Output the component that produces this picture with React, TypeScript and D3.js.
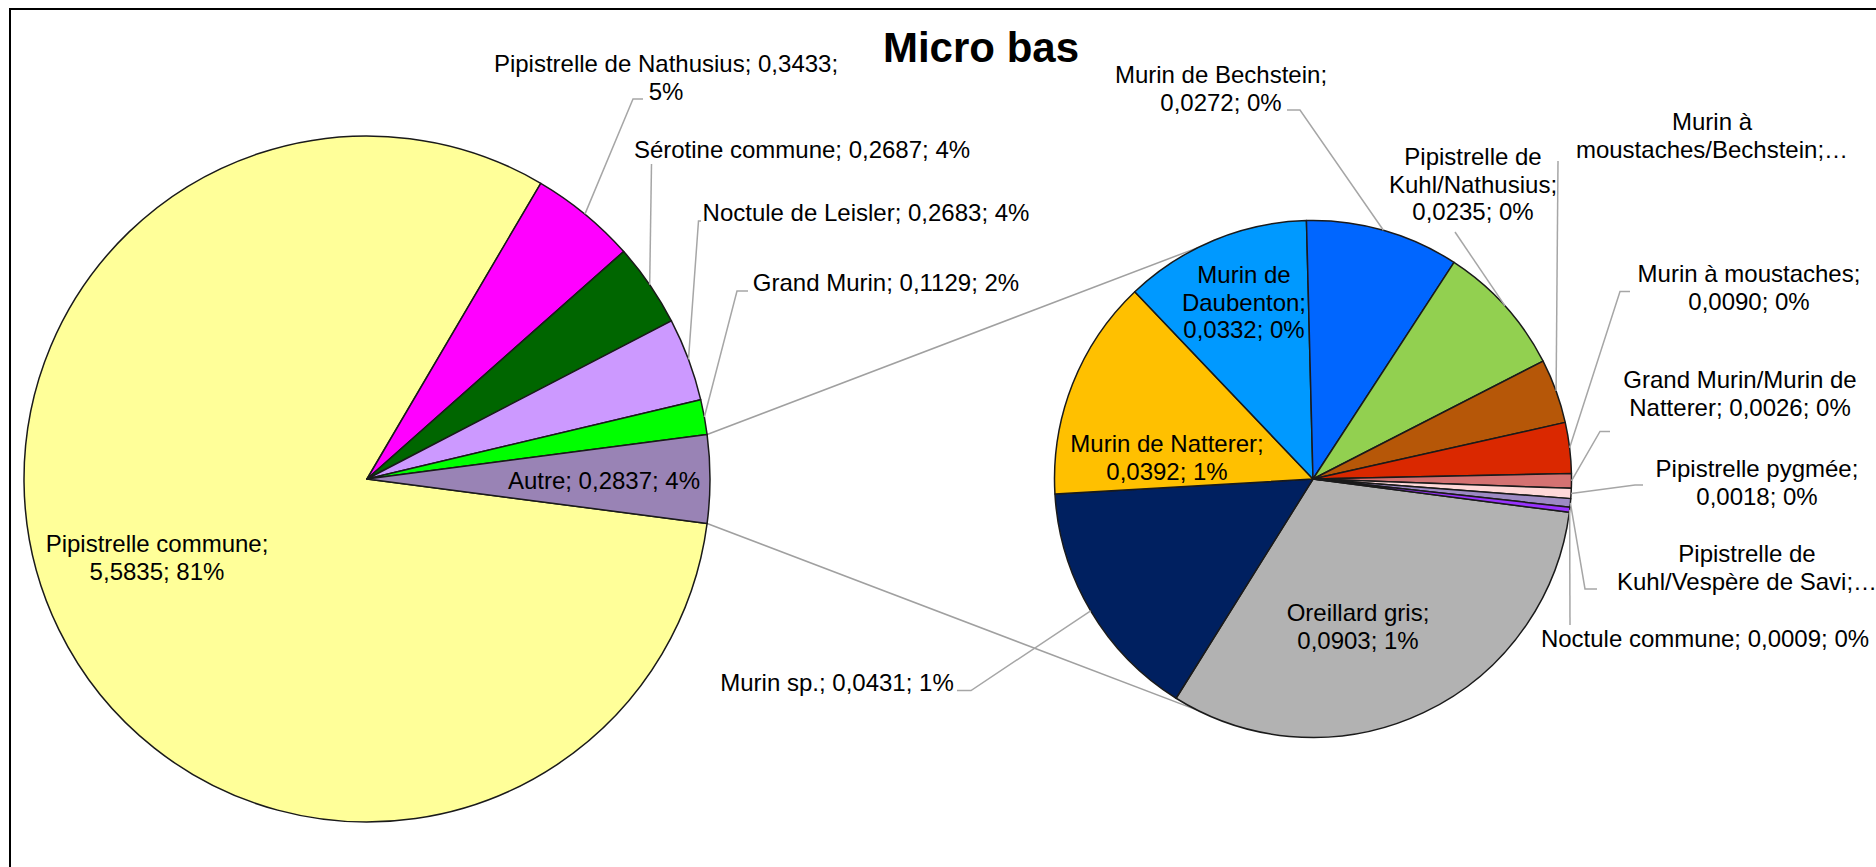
import React from 'react'
import * as d3 from 'd3'

const width = 1876
const height = 867

// main pie
const mainNames = ['Pipistrelle commune', 'Pipistrelle de Nathusius', 'Sérotine commune', 'Noctule de Leisler', 'Grand Murin']
const mainValues = [5.5835, 0.3433, 0.2687, 0.2683, 0.1129]
const mainColors = ['#FFFF99', '#FF00FF', '#006600', '#CC99FF', '#00FF00']
const otherName = 'Autre'
const otherColor = '#9983B5'

// secondary pie (details of "Autre")
const subNames = [
  'Oreillard gris', 'Murin sp.', 'Murin de Natterer', 'Murin de Daubenton', 'Murin de Bechstein',
  'Pipistrelle de Kuhl/Nathusius', 'Murin à moustaches/Bechstein', 'Murin à moustaches',
  'Grand Murin/Murin de Natterer', 'Pipistrelle pygmée', 'Pipistrelle de Kuhl/Vespère de Savi', 'Noctule commune',
]
const subValues = [0.0903, 0.0431, 0.0392, 0.0332, 0.0272, 0.0235, 0.0114, 0.0090, 0.0026, 0.0018, 0.0015, 0.0009]
const subColors = [
  '#B2B2B2', '#002060', '#FFC000', '#0099FF', '#0066FF', '#92D050',
  '#B65708', '#DA2800', '#D47272', '#FFD9D9', '#9D8AC4', '#9933FF',
]

const title = 'Micro bas'

// label layout: x centre, first baseline, words per line, leader elbow points
type Lay = { x: number; y: number; lines: number[]; leader?: [number, number][] }
const layout: Record<string, Lay> = {
  'Pipistrelle commune': { x: 157, y: 552, lines: [2, 2] },
  'Pipistrelle de Nathusius': { x: 666, y: 72, lines: [4, 1], leader: [[633, 99], [643, 99]] },
  'Sérotine commune': { x: 802, y: 158, lines: [4], leader: [[651.5, 164]] },
  'Noctule de Leisler': { x: 866, y: 221, lines: [5], leader: [[698.5, 221], [701, 221]] },
  'Grand Murin': { x: 886, y: 291, lines: [4], leader: [[737, 291], [748, 291]] },
  'Autre': { x: 604, y: 489, lines: [3] },
  'Oreillard gris': { x: 1358, y: 621, lines: [2, 2] },
  'Murin sp.': { x: 837, y: 691, lines: [4], leader: [[971, 690.5], [957, 690.5]] },
  'Murin de Natterer': { x: 1167, y: 452, lines: [3, 2] },
  'Murin de Daubenton': { x: 1244, y: 283, lines: [2, 1, 2] },
  'Murin de Bechstein': { x: 1221, y: 83, lines: [3, 2], leader: [[1300, 110], [1287, 110]] },
  'Pipistrelle de Kuhl/Nathusius': { x: 1473, y: 165, lines: [2, 1, 2], leader: [[1455, 232]] },
  'Murin à moustaches/Bechstein': { x: 1712, y: 130, lines: [2, 1], leader: [[1558, 161]] },
  'Murin à moustaches': { x: 1749, y: 282, lines: [3, 2], leader: [[1620, 291.5], [1630, 291.5]] },
  'Grand Murin/Murin de Natterer': { x: 1740, y: 388, lines: [3, 3], leader: [[1600, 431.5], [1610, 431.5]] },
  'Pipistrelle pygmée': { x: 1757, y: 477, lines: [2, 2], leader: [[1635, 485], [1643, 485]] },
  'Pipistrelle de Kuhl/Vespère de Savi': { x: 1747, y: 562, lines: [2, 3], leader: [[1585, 589], [1597, 589]] },
  'Noctule commune': { x: 1705, y: 647, lines: [4], leader: [[1570, 625]] },
}

const font = '"Liberation Sans", Arial, sans-serif'
const lineH = 27.6
const deg = Math.PI / 180

const fmt = (v: number) => d3.format('.4f')(v).replace('.', ',')

function wrap(text: string, counts: number[]) {
  const words = text.split(' ')
  const out: string[] = []
  let i = 0
  counts.forEach(c => {
    out.push(words.slice(i, i + c).join(' '))
    i += c
  })
  if (i < words.length) out[out.length - 1] += '…'
  return out
}

export default function App() {
  const otherValue = d3.sum(subValues)
  const total = d3.sum(mainValues) + otherValue
  const mainAll = [...mainValues, otherValue]
  const mainLabels = [...mainNames, otherName]
  const mainFill = [...mainColors, otherColor]

  const main = { cx: 367, cy: 479, r: 343 }
  const sub = { cx: 1313, cy: 479, r: 258.5 }

  // "Autre" centred on the horizontal on the right side
  const mainStart = Math.PI / 2 + (otherValue / total) * Math.PI
  const mainArcs = d3.pie<number>().sort(null).value(d => d)
    .startAngle(mainStart).endAngle(mainStart + 2 * Math.PI)(mainAll)

  const subStart = 97.4 * deg
  const subArcs = d3.pie<number>().sort(null).value(d => d)
    .startAngle(subStart).endAngle(subStart + 2 * Math.PI)(subValues)

  const mainArc = d3.arc<d3.PieArcDatum<number>>().innerRadius(0).outerRadius(main.r)
  const subArc = d3.arc<d3.PieArcDatum<number>>().innerRadius(0).outerRadius(sub.r)

  const polar = (c: { cx: number; cy: number; r: number }, a: number): [number, number] =>
    [c.cx + c.r * Math.sin(a), c.cy - c.r * Math.cos(a)]

  const line = d3.line()

  const other = mainArcs[mainArcs.length - 1]
  const connAngle = 26.6 * deg
  const connectors: [number, number][][] = [
    [polar(main, other.startAngle), polar(sub, 2 * Math.PI - connAngle)],
    [polar(main, other.endAngle), polar(sub, Math.PI + connAngle)],
  ]

  const labelText = (name: string, v: number) =>
    `${name}; ${fmt(v)}; ${Math.round((v / total) * 100)}%`

  const renderLabel = (name: string, v: number, edge: [number, number], key: string) => {
    const lay = layout[name]
    if (!lay) return null
    const lines = wrap(labelText(name, v), lay.lines)
    return (
      <g key={key}>
        {lay.leader && (
          <path d={line([edge, ...lay.leader]) || ''} fill="none" stroke="#A6A6A6" strokeWidth={1.5} />
        )}
        <text x={lay.x} y={lay.y} textAnchor="middle" fontFamily={font} fontSize={24} fill="#000">
          {lines.map((l, i) => (
            <tspan key={i} x={lay.x} y={lay.y + i * lineH}>{l}</tspan>
          ))}
        </text>
      </g>
    )
  }

  return (
    <svg width={width} height={height} style={{ position: 'absolute', left: 0, top: 0, display: 'block' }}>
      <rect x={0} y={0} width={width} height={height} fill="#fff" />
      <rect x={10} y={9} width={width + 40} height={height + 40} fill="#fff" stroke="#000" strokeWidth={2} />
      <text x={981} y={62} textAnchor="middle" fontFamily={font} fontSize={42} fontWeight="bold">{title}</text>

      {connectors.map((c, i) => (
        <path key={i} d={line(c) || ''} fill="none" stroke="#A0A0A0" strokeWidth={1.5} />
      ))}

      <g transform={`translate(${main.cx},${main.cy})`}>
        {mainArcs.map((a, i) => (
          <path key={i} d={mainArc(a) || ''} fill={mainFill[i]} stroke="#1a1a1a" strokeWidth={1.5} strokeLinejoin="round" />
        ))}
      </g>
      <g transform={`translate(${sub.cx},${sub.cy})`}>
        {subArcs.map((a, i) => (
          <path key={i} d={subArc(a) || ''} fill={subColors[i]} stroke="#1a1a1a" strokeWidth={1.5} strokeLinejoin="round" />
        ))}
      </g>

      {mainArcs.map((a, i) =>
        renderLabel(mainLabels[i], a.data, polar(main, (a.startAngle + a.endAngle) / 2), 'm' + i))}
      {subArcs.map((a, i) =>
        renderLabel(subNames[i], a.data, polar(sub, (a.startAngle + a.endAngle) / 2), 's' + i))}
    </svg>
  )
}
